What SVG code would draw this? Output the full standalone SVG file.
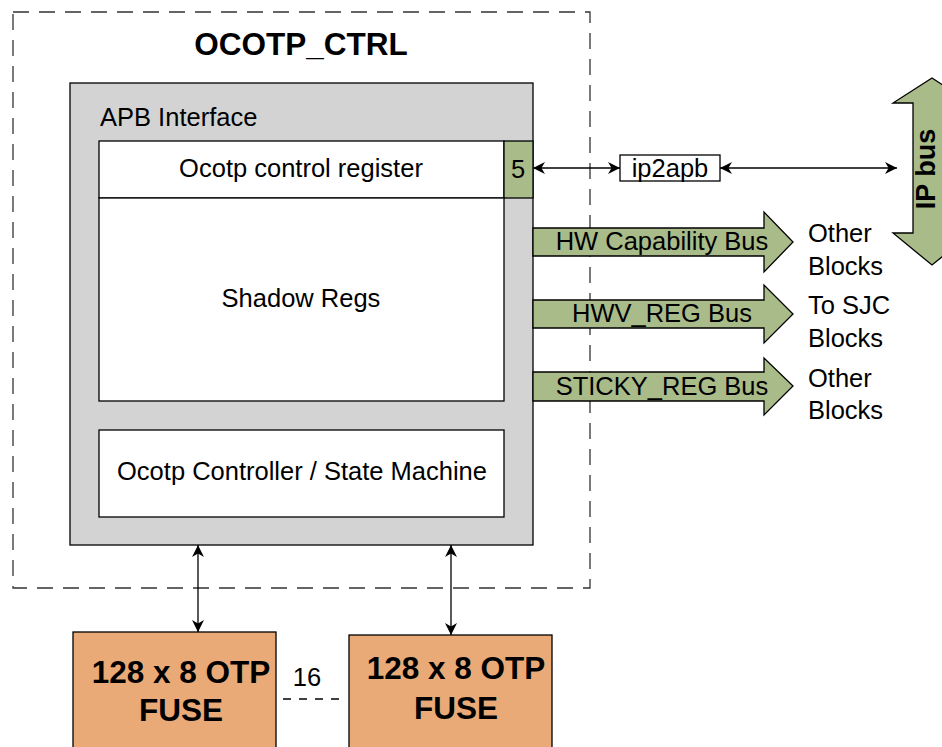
<svg xmlns="http://www.w3.org/2000/svg" width="942" height="747" viewBox="0 0 942 747">
<style>
text{font-family:"Liberation Sans",Arial,sans-serif;fill:#000}
.t{font-size:25.5px}
.b{font-weight:bold}
.box{stroke:#000;stroke-width:1.3}
.grn{fill:#a8bb89;stroke:#000;stroke-width:1.3}
.org{fill:#e9aa77;stroke:#000;stroke-width:1.3}
.ln{stroke:#000;stroke-width:1.3;fill:none}
.dash{stroke:#333;stroke-width:1.3;fill:none;stroke-dasharray:16 10}
</style>
<defs>
<marker id="ah" viewBox="0 0 10 10" refX="10" refY="5" markerWidth="12" markerHeight="12" markerUnits="userSpaceOnUse" orient="auto-start-reverse">
<path d="M0,0 L10,5 L0,10 L3,5 Z" fill="#000"/>
</marker>
</defs>
<g id="ocotp_ctrl">
<rect x="13" y="12" width="577" height="576" class="dash"/>
<text x="301" y="55" text-anchor="middle" class="b" font-size="31.5">OCOTP_CTRL</text>
</g>
<g id="apb">
<rect x="70" y="83" width="463" height="462" fill="#d3d3d3" class="box"/>
<text x="100" y="126" class="t">APB Interface</text>
</g>
<g id="ctrlreg">
<rect x="99" y="141" width="405" height="57" fill="#fff" class="box"/>
<text x="301" y="177" text-anchor="middle" class="t">Ocotp control register</text>
</g>
<g id="five">
<rect x="504" y="141" width="29" height="57" class="grn"/>
<text x="518" y="178" text-anchor="middle" class="t">5</text>
</g>
<g id="shadow">
<rect x="99" y="198" width="405" height="203" fill="#fff" class="box"/>
<text x="301" y="307" text-anchor="middle" class="t">Shadow Regs</text>
</g>
<g id="controller">
<rect x="99" y="430" width="405" height="87" fill="#fff" class="box"/>
<text x="302" y="480" text-anchor="middle" class="t">Ocotp Controller / State Machine</text>
</g>
<g id="ip2apb">
<rect x="620" y="155" width="100" height="26" fill="#fff" class="box"/>
<text x="670" y="177" text-anchor="middle" class="t">ip2apb</text>
</g>
<g id="ipbus">
<path d="M932,78 L971,103 L951,103 L951,233 L971,233 L932,265 L893,233 L913,233 L913,103 L893,103 Z" class="grn"/>
<text transform="translate(935,169) rotate(-90)" text-anchor="middle" class="b" font-size="27">IP bus</text>
</g>
<g id="hwcap">
<path d="M533,228 L764,228 L764,212 L793,242 L764,272 L764,256 L533,256 Z" class="grn"/>
<text x="662" y="250" text-anchor="middle" class="t">HW Capability Bus</text>
<text x="808" y="242" class="t">Other</text>
<text x="808" y="275" class="t">Blocks</text>
</g>
<g id="hwv">
<path d="M533,300 L764,300 L764,285 L793,314 L764,343 L764,328 L533,328 Z" class="grn"/>
<text x="662" y="322" text-anchor="middle" class="t">HWV_REG Bus</text>
<text x="808" y="314" class="t">To SJC</text>
<text x="808" y="347" class="t">Blocks</text>
</g>
<g id="sticky">
<path d="M533,372 L764,372 L764,358 L793,386 L764,415 L764,401 L533,401 Z" class="grn"/>
<text x="662" y="395" text-anchor="middle" class="t">STICKY_REG Bus</text>
<text x="808" y="387" class="t">Other</text>
<text x="808" y="419" class="t">Blocks</text>
</g>
<g id="fuse1">
<rect x="73" y="632" width="203" height="130" class="org"/>
<text x="181" y="683" text-anchor="middle" class="b" font-size="31.5">128 x 8 OTP</text>
<text x="181" y="721" text-anchor="middle" class="b" font-size="31.5">FUSE</text>
</g>
<g id="fuse2">
<rect x="349" y="635" width="203" height="130" class="org"/>
<text x="456" y="679" text-anchor="middle" class="b" font-size="31.5">128 x 8 OTP</text>
<text x="456" y="719" text-anchor="middle" class="b" font-size="31.5">FUSE</text>
</g>
<g id="connectors">
<line x1="533" y1="168" x2="620" y2="168" class="ln" marker-start="url(#ah)" marker-end="url(#ah)"/>
<line x1="720" y1="168" x2="897" y2="168" class="ln" marker-start="url(#ah)" marker-end="url(#ah)"/>
<line x1="198" y1="545" x2="198" y2="632" class="ln" marker-start="url(#ah)" marker-end="url(#ah)"/>
<line x1="451" y1="545" x2="451" y2="635" class="ln" marker-start="url(#ah)" marker-end="url(#ah)"/>
<line x1="283" y1="699" x2="343" y2="699" class="ln" stroke-dasharray="8 8"/>
<text x="307" y="686" text-anchor="middle" class="t">16</text>
</g>
</svg>
